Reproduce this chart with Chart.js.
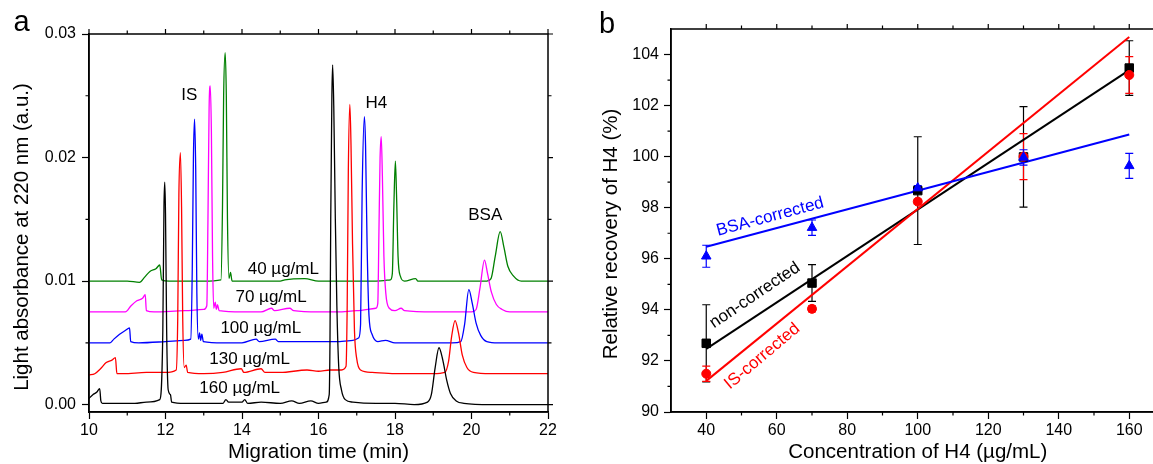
<!DOCTYPE html>
<html lang="en">
<head>
<meta charset="UTF-8">
<title>H4 electropherograms and recovery</title>
<script src="https://cdn.jsdelivr.net/npm/chart.js"></script>
<style>
    html, body { margin: 0; padding: 0; overflow: hidden; background: #fff; }
    body { width: 1153px; height: 464px; position: relative; }
    .panel { position: absolute; top: 0; }
    #panelA { left: 0; }
    #panelB { left: 580px; }
</style>
</head>
<body>
<div class="panel" id="panelA"><canvas id="chartA" width="580" height="464"></canvas></div>
<div class="panel" id="panelB"><canvas id="chartB" width="600" height="464"></canvas></div>

<script>
// ---- panel a: electropherograms, [time (min), absorbance (a.u.)] ----
const trace160 = [[10.00,0.0005],[10.10,0.0008],[10.20,0.0010],[10.28,0.0013],[10.31,0.0003],[10.35,0.0001],[10.80,0.0001],[11.20,0.0001],[11.50,0.0002],[11.85,0.0004],[11.93,0.0060],[11.96,0.0160],[11.98,0.0180],[12.00,0.0155],[12.03,0.0060],[12.07,0.0012],[12.13,0.0008],[12.16,0.0002],[12.50,0.0001],[13.00,0.0001],[13.50,0.0001],[13.58,0.0004],[13.65,0.0002],[14.00,0.0002],[14.07,0.0004],[14.15,0.0001],[14.50,0.0002],[15.00,0.0001],[15.30,0.0003],[15.50,0.0001],[15.80,0.0003],[16.00,0.0001],[16.20,0.0002],[16.28,0.0008],[16.30,0.0050],[16.32,0.0150],[16.35,0.0250],[16.37,0.0275],[16.40,0.0240],[16.44,0.0150],[16.48,0.0080],[16.53,0.0030],[16.60,0.0012],[16.70,0.0004],[16.90,0.0002],[17.50,0.0001],[18.00,0.0001],[18.50,0.0000],[18.85,0.0002],[18.95,0.0008],[19.05,0.0030],[19.15,0.0046],[19.25,0.0036],[19.35,0.0020],[19.45,0.0009],[19.60,0.0003],[19.80,0.0001],[20.50,0.0000],[22.00,0.0000]];
const trace130 = [[10.00,0.0024],[10.15,0.0025],[10.30,0.0029],[10.45,0.0034],[10.60,0.0036],[10.69,0.0038],[10.73,0.0025],[10.90,0.0025],[11.50,0.0026],[12.00,0.0026],[12.28,0.0028],[12.32,0.0070],[12.35,0.0170],[12.39,0.0204],[12.42,0.0160],[12.45,0.0070],[12.49,0.0030],[12.54,0.0032],[12.58,0.0026],[13.00,0.0025],[13.50,0.0026],[13.98,0.0029],[14.05,0.0026],[14.50,0.0029],[14.60,0.0026],[15.00,0.0026],[15.70,0.0028],[16.00,0.0027],[16.30,0.0028],[16.60,0.0028],[16.72,0.0031],[16.75,0.0080],[16.78,0.0190],[16.82,0.0243],[16.85,0.0210],[16.89,0.0130],[16.94,0.0060],[17.00,0.0037],[17.10,0.0028],[17.40,0.0026],[18.00,0.0025],[19.00,0.0025],[19.30,0.0026],[19.40,0.0035],[19.48,0.0055],[19.57,0.0068],[19.66,0.0058],[19.76,0.0040],[19.88,0.0030],[20.05,0.0026],[20.50,0.0025],[22.00,0.0025]];
const trace100 = [[10.00,0.0050],[10.30,0.0050],[10.55,0.0050],[10.65,0.0053],[10.80,0.0057],[10.95,0.0060],[11.06,0.0062],[11.09,0.0051],[11.30,0.0050],[12.00,0.0051],[12.50,0.0052],[12.66,0.0053],[12.70,0.0110],[12.73,0.0200],[12.76,0.0231],[12.79,0.0190],[12.82,0.0090],[12.86,0.0053],[12.89,0.0058],[12.92,0.0052],[12.95,0.0057],[12.99,0.0051],[13.50,0.0050],[14.00,0.0050],[14.37,0.0053],[14.45,0.0051],[14.87,0.0053],[14.95,0.0051],[15.50,0.0051],[16.00,0.0051],[16.50,0.0051],[16.90,0.0052],[17.05,0.0054],[17.10,0.0065],[17.14,0.0170],[17.20,0.0233],[17.23,0.0210],[17.27,0.0130],[17.32,0.0072],[17.40,0.0057],[17.55,0.0051],[17.75,0.0052],[18.00,0.0050],[19.00,0.0050],[19.50,0.0050],[19.72,0.0051],[19.82,0.0065],[19.93,0.0093],[20.02,0.0082],[20.12,0.0066],[20.24,0.0056],[20.40,0.0051],[20.70,0.0050],[22.00,0.0050]];
const trace70 = [[10.00,0.0075],[10.50,0.0075],[10.95,0.0075],[11.10,0.0080],[11.25,0.0084],[11.40,0.0086],[11.47,0.0089],[11.50,0.0076],[11.70,0.0075],[12.50,0.0076],[13.00,0.0077],[13.08,0.0080],[13.11,0.0150],[13.14,0.0240],[13.17,0.0258],[13.20,0.0220],[13.23,0.0120],[13.26,0.0078],[13.30,0.0083],[13.33,0.0077],[13.36,0.0081],[13.40,0.0076],[14.00,0.0075],[14.50,0.0075],[14.77,0.0078],[14.85,0.0076],[15.25,0.0078],[15.35,0.0076],[16.00,0.0075],[16.50,0.0075],[17.00,0.0076],[17.50,0.0078],[17.55,0.0082],[17.58,0.0140],[17.61,0.0200],[17.64,0.0217],[17.67,0.0185],[17.71,0.0120],[17.76,0.0090],[17.85,0.0078],[18.00,0.0076],[18.16,0.0078],[18.25,0.0076],[19.00,0.0075],[20.00,0.0075],[20.12,0.0077],[20.22,0.0094],[20.34,0.0117],[20.42,0.0106],[20.52,0.0091],[20.65,0.0081],[20.80,0.0077],[21.00,0.0075],[22.00,0.0075]];
const trace40 = [[10.00,0.0100],[11.00,0.0100],[11.32,0.0099],[11.45,0.0103],[11.60,0.0108],[11.75,0.0110],[11.85,0.0113],[11.90,0.0101],[12.10,0.0100],[13.00,0.0100],[13.45,0.0101],[13.49,0.0160],[13.52,0.0250],[13.56,0.0285],[13.59,0.0250],[13.62,0.0150],[13.66,0.0102],[13.70,0.0107],[13.74,0.0100],[14.20,0.0100],[15.00,0.0100],[15.12,0.0101],[15.64,0.0102],[16.00,0.0100],[17.00,0.0100],[17.50,0.0100],[17.88,0.0101],[17.93,0.0106],[17.97,0.0160],[18.01,0.0197],[18.04,0.0170],[18.08,0.0120],[18.14,0.0104],[18.25,0.0100],[18.54,0.0102],[18.60,0.0100],[19.50,0.0100],[20.40,0.0100],[20.51,0.0102],[20.62,0.0120],[20.75,0.0140],[20.85,0.0127],[20.95,0.0112],[21.10,0.0104],[21.30,0.0100],[22.00,0.0100]];

const xTicksA = [10, 12, 14, 16, 18, 20, 22];
const xMinorA = [11, 13, 15, 17, 19, 21];
const yTicksA = [0, 0.01, 0.02, 0.03];
const yMinorA = [0.005, 0.015, 0.025];

// ---- panel b: relative recovery of H4 (%) ----
const conc = [40, 70, 100, 130, 160];
const nonCorr = [92.69, 95.05, 98.67, 99.99, 103.47];
const nonCorrErr = [1.51, 0.72, 2.11, 1.97, 1.07];
const isCorr = [91.50, 94.04, 98.24, 100.00, 103.20];
const isCorrErr = [0.30, 0.12, 0.10, 0.90, 0.72];
const bsaCorr = [96.10, 97.22, 98.77, 99.97, 99.64];
const bsaCorrErr = [0.43, 0.30, 0.10, 0.30, 0.49];
const fitX = [40, 160];
const nonCorrFit = [92.47, 103.39];
const isCorrFit = [91.22, 104.69];
const bsaCorrFit = [96.47, 100.87];

const xTicksB = [40, 60, 80, 100, 120, 140, 160];
const xMinorB = [50, 70, 90, 110, 130, 150];
const yTicksB = [90, 92, 94, 96, 98, 100, 102, 104];
const yMinorB = [91, 93, 95, 97, 99, 101, 103];

const FONT = '"Liberation Sans", Arial, sans-serif';
Chart.defaults.font.family = FONT;
Chart.defaults.color = '#000';

const toXY = arr => arr.map(p => ({ x: p[0], y: p[1] }));
const zip = (xs, ys) => xs.map((v, i) => ({ x: v, y: ys[i] }));

// frame around the plot with mirrored and minor ticks
function makeFrame(xMajor, xMinor, yMajor, yMinor) {
    return {
        id: 'frame',
        afterDraw(chart) {
            const { ctx, chartArea: a, scales: { x, y } } = chart;
            ctx.save();
            ctx.strokeStyle = '#000';
            ctx.lineWidth = 1.5;
            ctx.strokeRect(a.left, a.top, a.right - a.left, a.bottom - a.top);
            ctx.lineWidth = 1.2;
            ctx.beginPath();
            xMinor.forEach(v => {
                const p = x.getPixelForValue(v);
                ctx.moveTo(p, a.bottom); ctx.lineTo(p, a.bottom + 3.5);
                ctx.moveTo(p, a.top); ctx.lineTo(p, a.top - 3.5);
            });
            xMajor.forEach(v => {
                const p = x.getPixelForValue(v);
                ctx.moveTo(p, a.top); ctx.lineTo(p, a.top - 5);
            });
            yMinor.forEach(v => {
                const p = y.getPixelForValue(v);
                ctx.moveTo(a.left, p); ctx.lineTo(a.left - 3.5, p);
                ctx.moveTo(a.right, p); ctx.lineTo(a.right + 3.5, p);
            });
            yMajor.forEach(v => {
                const p = y.getPixelForValue(v);
                ctx.moveTo(a.right, p); ctx.lineTo(a.right + 5, p);
            });
            ctx.stroke();
            ctx.restore();
        }
    };
}

function axisOpts(min, max, ticks, fmt, pad) {
    return {
        type: 'linear', min: min, max: max,
        afterBuildTicks: s => { s.ticks = ticks.map(v => ({ value: v })); },
        ticks: { font: { size: 16 }, padding: pad, callback: fmt },
        grid: { drawOnChartArea: false, tickLength: 7, tickWidth: 1.2, color: '#000' },
        border: { color: '#000', width: 1.5 }
    };
}

// ---------------- panel a ----------------
const notesA = [
    { text: 'IS', x: 12.62, y: 0.02506 },
    { text: 'H4', x: 17.51, y: 0.02435 },
    { text: 'BSA', x: 20.36, y: 0.0153 },
    { text: '40 µg/mL', x: 15.08, y: 0.01097 },
    { text: '70 µg/mL', x: 14.76, y: 0.00870 },
    { text: '100 µg/mL', x: 14.49, y: 0.00617 },
    { text: '130 µg/mL', x: 14.20, y: 0.00369 },
    { text: '160 µg/mL', x: 13.94, y: 0.00133 }
];

const labelsA = {
    id: 'labelsA',
    afterDraw(chart) {
        const { ctx, scales: { x, y } } = chart;
        ctx.save();
        ctx.fillStyle = '#000';
        ctx.textAlign = 'center';
        ctx.textBaseline = 'middle';
        ctx.font = '17px ' + FONT;
        notesA.forEach(n => ctx.fillText(n.text, x.getPixelForValue(n.x), y.getPixelForValue(n.y)));
        ctx.font = '20.5px ' + FONT;
        ctx.translate(22.5, 237);
        ctx.rotate(-Math.PI / 2);
        ctx.fillText('Light absorbance at 220 nm (a.u.)', 0, 0);
        ctx.restore();
        ctx.save();
        ctx.font = '29px ' + FONT;
        ctx.textBaseline = 'alphabetic';
        ctx.fillText('a', 13.5, 30.5);
        ctx.restore();
    }
};

function trace(data, color) {
    return {
        data: toXY(data), showLine: true, borderColor: color, borderWidth: 1.3,
        pointRadius: 0, cubicInterpolationMode: 'monotone', fill: false
    };
}

const xA = axisOpts(10, 22, xTicksA, v => String(v), 2);
xA.afterFit = s => { s.height = 52; };
xA.title = { display: true, text: 'Migration time (min)', font: { size: 20.5, lineHeight: 1.1 }, padding: { top: 0, bottom: 0 } };
const yA = axisOpts(-0.0006, 0.03, yTicksA, v => v.toFixed(2), 6);
yA.afterFit = s => { s.width = 89; };

new Chart(document.getElementById('chartA'), {
    type: 'scatter',
    data: {
        datasets: [
            trace(trace160, '#000000'),
            trace(trace130, '#ff0000'),
            trace(trace100, '#0000ff'),
            trace(trace70, '#ff00ff'),
            trace(trace40, '#008000')
        ]
    },
    options: {
        responsive: false,
        animation: false,
        layout: { padding: { top: 34, right: 32, left: 0, bottom: 0 } },
        plugins: { legend: { display: false }, tooltip: { enabled: false } },
        scales: { x: xA, y: yA }
    },
    plugins: [makeFrame(xTicksA, xMinorA, yTicksA, yMinorA), labelsA]
});

// ---------------- panel b ----------------
const errSeries = [
    { vals: nonCorr, err: nonCorrErr, color: '#000000' },
    { vals: isCorr, err: isCorrErr, color: '#ff0000' },
    { vals: bsaCorr, err: bsaCorrErr, color: '#0000ff' }
];

const errorBars = {
    id: 'errorBars',
    beforeDatasetsDraw(chart) {
        const { ctx, scales: { x, y } } = chart;
        ctx.save();
        ctx.lineWidth = 1.2;
        errSeries.forEach(s => {
            ctx.strokeStyle = s.color;
            ctx.beginPath();
            conc.forEach((c, i) => {
                const px = x.getPixelForValue(c);
                const hi = y.getPixelForValue(s.vals[i] + s.err[i]);
                const lo = y.getPixelForValue(s.vals[i] - s.err[i]);
                ctx.moveTo(px, hi); ctx.lineTo(px, lo);
                ctx.moveTo(px - 4, hi); ctx.lineTo(px + 4, hi);
                ctx.moveTo(px - 4, lo); ctx.lineTo(px + 4, lo);
            });
            ctx.stroke();
        });
        ctx.restore();
    }
};

const notesB = [
    { text: 'BSA-corrected', color: '#0000ff', x: 58.1, y: 97.64, angle: -15 },
    { text: 'non-corrected', color: '#000000', x: 53.8, y: 94.57, angle: -34 },
    { text: 'IS-corrected', color: '#ff0000', x: 55.9, y: 92.18, angle: -40 }
];

const labelsB = {
    id: 'labelsB',
    afterDraw(chart) {
        const { ctx, scales: { x, y } } = chart;
        ctx.save();
        ctx.textAlign = 'center';
        ctx.textBaseline = 'middle';
        ctx.font = '17px ' + FONT;
        notesB.forEach(n => {
            ctx.save();
            ctx.fillStyle = n.color;
            ctx.translate(x.getPixelForValue(n.x), y.getPixelForValue(n.y));
            ctx.rotate(n.angle * Math.PI / 180);
            ctx.fillText(n.text, 0, 0);
            ctx.restore();
        });
        ctx.fillStyle = '#000';
        ctx.font = '20.5px ' + FONT;
        ctx.translate(31.5, 234);
        ctx.rotate(-Math.PI / 2);
        ctx.fillText('Relative recovery of H4 (%)', 0, 0);
        ctx.restore();
        ctx.save();
        ctx.font = '29px ' + FONT;
        ctx.fillText('b', 19, 33);
        ctx.restore();
    }
};

function markers(vals, color, style, r) {
    return {
        data: zip(conc, vals), pointStyle: style, pointRadius: r,
        backgroundColor: color, borderColor: color, borderWidth: 1
    };
}

function fitLine(vals, color) {
    return { data: zip(fitX, vals), showLine: true, borderColor: color, borderWidth: 2, pointRadius: 0 };
}

const xB = axisOpts(30, 170, xTicksB, v => String(v), 2);
xB.afterFit = s => { s.height = 52; };
xB.title = { display: true, text: 'Concentration of H4 (µg/mL)', font: { size: 20.5, lineHeight: 1.1 }, padding: { top: 0, bottom: 0 } };
const yB = axisOpts(90, 105, yTicksB, v => String(v), 5);
yB.afterFit = s => { s.width = 91; };

new Chart(document.getElementById('chartB'), {
    type: 'scatter',
    data: {
        datasets: [
            markers(bsaCorr, '#0000ff', 'triangle', 5.5),
            markers(isCorr, '#ff0000', 'circle', 4.5),
            markers(nonCorr, '#000000', 'rect', 6),
            fitLine(bsaCorrFit, '#0000ff'),
            fitLine(isCorrFit, '#ff0000'),
            fitLine(nonCorrFit, '#000000')
        ]
    },
    options: {
        responsive: false,
        animation: false,
        layout: { padding: { top: 29, right: 15.5, left: 0, bottom: 0 } },
        plugins: { legend: { display: false }, tooltip: { enabled: false } },
        scales: { x: xB, y: yB }
    },
    plugins: [errorBars, makeFrame(xTicksB, xMinorB, yTicksB, yMinorB), labelsB]
});
</script>
</body>
</html>
